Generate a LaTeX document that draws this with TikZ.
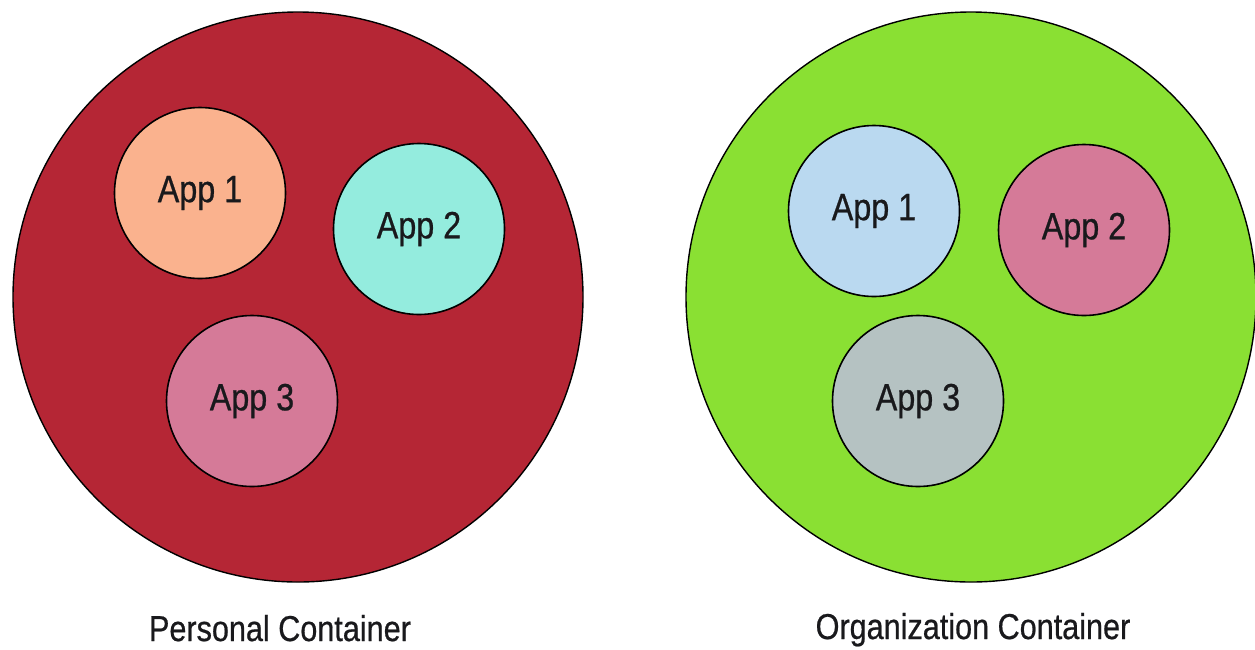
\documentclass[tikz,border=0pt]{standalone}
\usepackage{fontspec}
\setmainfont[FakeStretch=0.85,FakeBold=0.6]{Liberation Sans}
\definecolor{pred}{RGB}{181,38,53}
\definecolor{ogreen}{RGB}{138,224,51}
\definecolor{peach}{RGB}{250,178,142}
\definecolor{aqua}{RGB}{148,236,222}
\definecolor{rose}{RGB}{213,122,152}
\definecolor{lblue}{RGB}{186,217,240}
\definecolor{greyg}{RGB}{181,194,194}
\definecolor{ink}{RGB}{25,25,28}
\begin{document}
\begin{tikzpicture}[x=1pt,y=-1pt,
  big/.style={circle,draw=black,line width=1.4pt,minimum size=570pt,inner sep=0pt},
  app/.style={circle,draw=black,line width=1.6pt,minimum size=171pt,inner sep=0pt,font=\fontsize{38}{42}\selectfont,text=ink},
  lab/.style={font=\fontsize{36}{40}\selectfont,text=ink,anchor=base,inner sep=0pt}]
\useasboundingbox (0,0) rectangle (1255,649);
\node[big,fill=pred] (pc) at (298,297) {};
\node[big,fill=ogreen] (oc) at (971,297) {};
\node[app,fill=peach] (p1) at (200,193) {App 1};
\node[app,fill=aqua] (p2) at (419,229) {App 2};
\node[app,fill=rose] (p3) at (252,401) {App 3};
\node[app,fill=lblue] (o1) at (874,211) {App 1};
\node[app,fill=rose] (o2) at (1084,230) {App 2};
\node[app,fill=greyg] (o3) at (918,401) {App 3};
\node[lab] (pl) at (280,641) {Personal Container};
\node[lab] (ol) at (973,639) {Organization Container};
\end{tikzpicture}
\end{document}
